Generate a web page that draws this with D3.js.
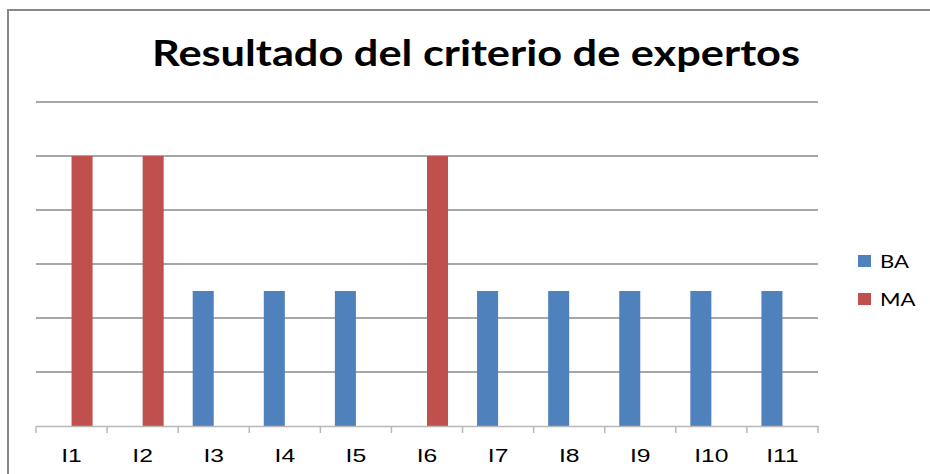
<!DOCTYPE html>
<head>
  <meta charset="utf-8">
  <style>
    body { margin: 0; background-color: white; }
    svg { background-color: white; font-family: 'Lato', 'Open Sans', sans-serif; }
    .title { font-size: 37px; font-weight: bold; fill: #000; }
    .tickLabel { font-size: 19px; fill: #000; }
    .legendLabel { font-size: 17px; fill: #000; }
  </style>
</head>
<body>
<script src="https://d3js.org/d3.v7.min.js"></script>
<script type="text/javascript">

  // DATA
  var categories = ['I1','I2','I3','I4','I5','I6','I7','I8','I9','I10','I11'];
  var seriesNames = ['BA','MA'];
  var baValues = [0, 0, 1, 1, 1, 0, 1, 1, 1, 1, 1];
  var maValues = [2, 2, 0, 0, 0, 2, 0, 0, 0, 0, 0];
  var yTicks = [0, 0.4, 0.8, 1.2, 1.6, 2.0, 2.4];
  var colors = ['#4F81BD', '#C0504D'];

  // DIMENSIONS
  var width = 930, height = 474;
  var margin = {top: 102, right: 112, bottom: 48, left: 36};

  var svg = d3.select('body').append('svg')
      .attr('width', width)
      .attr('height', height);

  // frame
  svg.append('path')
      .attr('d', `M8,${height} V10 H${width}`)
      .attr('fill', 'none')
      .attr('stroke', '#888')
      .attr('stroke-width', 2);

  // SCALES
  var xScale = d3.scaleBand(categories, [margin.left, width - margin.right]);
  var xSub = d3.scaleBand(seriesNames, [0, xScale.bandwidth()]).paddingInner(0).paddingOuter(0.69);
  var yScale = d3.scaleLinear([0, 2.4], [height - margin.bottom, margin.top]);

  // GRIDLINES
  svg.append('g')
      .selectAll('line')
      .data(yTicks.slice(1))
      .join('line')
      .attr('x1', margin.left)
      .attr('x2', width - margin.right)
      .attr('y1', d => yScale(d))
      .attr('y2', d => yScale(d))
      .attr('stroke', '#8a8a8a')
      .attr('stroke-width', 1.3);

  // BARS
  var data = categories.map((c, i) => ({cat: c, values: [baValues[i], maValues[i]]}));

  var groups = svg.append('g')
      .selectAll('g')
      .data(data)
      .join('g')
      .attr('transform', d => `translate(${xScale(d.cat)},0)`);

  groups.selectAll('rect')
      .data(d => d.values.map((v, j) => ({name: seriesNames[j], value: v, color: colors[j]})))
      .join('rect')
      .attr('x', d => xSub(d.name))
      .attr('width', xSub.bandwidth())
      .attr('y', d => yScale(d.value))
      .attr('height', d => yScale(0) - yScale(d.value))
      .attr('fill', d => d.color);

  // X AXIS
  var xAxis = d3.axisBottom(xScale).tickSize(0).tickPadding(22);
  var xAxisG = svg.append('g')
      .attr('transform', `translate(0,${yScale(0)})`)
      .call(xAxis);
  xAxisG.select('.domain').attr('stroke', '#b8b8b8').attr('stroke-width', 1.5);
  xAxisG.selectAll('text')
      .attr('class', 'tickLabel')
      .attr('font-size', null)
      .attr('font-family', null)
      .attr('y', 36)
      .attr('dy', null)
      .attr('transform', 'scale(1.3,1)');

  // category boundary ticks
  var bounds = categories.map(c => xScale(c)).concat([width - margin.right]);
  xAxisG.selectAll('.bound')
      .data(bounds)
      .join('line')
      .attr('class', 'bound')
      .attr('x1', d => d).attr('x2', d => d)
      .attr('y1', 0).attr('y2', 7)
      .attr('stroke', '#b8b8b8')
      .attr('stroke-width', 1.5);

  // TITLE
  svg.append('text')
      .attr('class', 'title')
      .attr('x', 152)
      .attr('y', 66)
      .attr('textLength', 648)
      .attr('lengthAdjust', 'spacingAndGlyphs')
      .text('Resultado del criterio de expertos');

  // LEGEND
  var legend = svg.append('g')
      .selectAll('g')
      .data(seriesNames)
      .join('g')
      .attr('transform', (d, i) => `translate(858,${255 + i * 38})`);

  legend.append('rect')
      .attr('width', 13)
      .attr('height', 12)
      .attr('fill', (d, i) => colors[i]);

  legend.append('text')
      .attr('class', 'legendLabel')
      .attr('x', 22)
      .attr('y', 13)
      .attr('transform', 'translate(22,0) scale(1.3,1) translate(-22,0)')
      .text(d => d);

</script>
</body>
